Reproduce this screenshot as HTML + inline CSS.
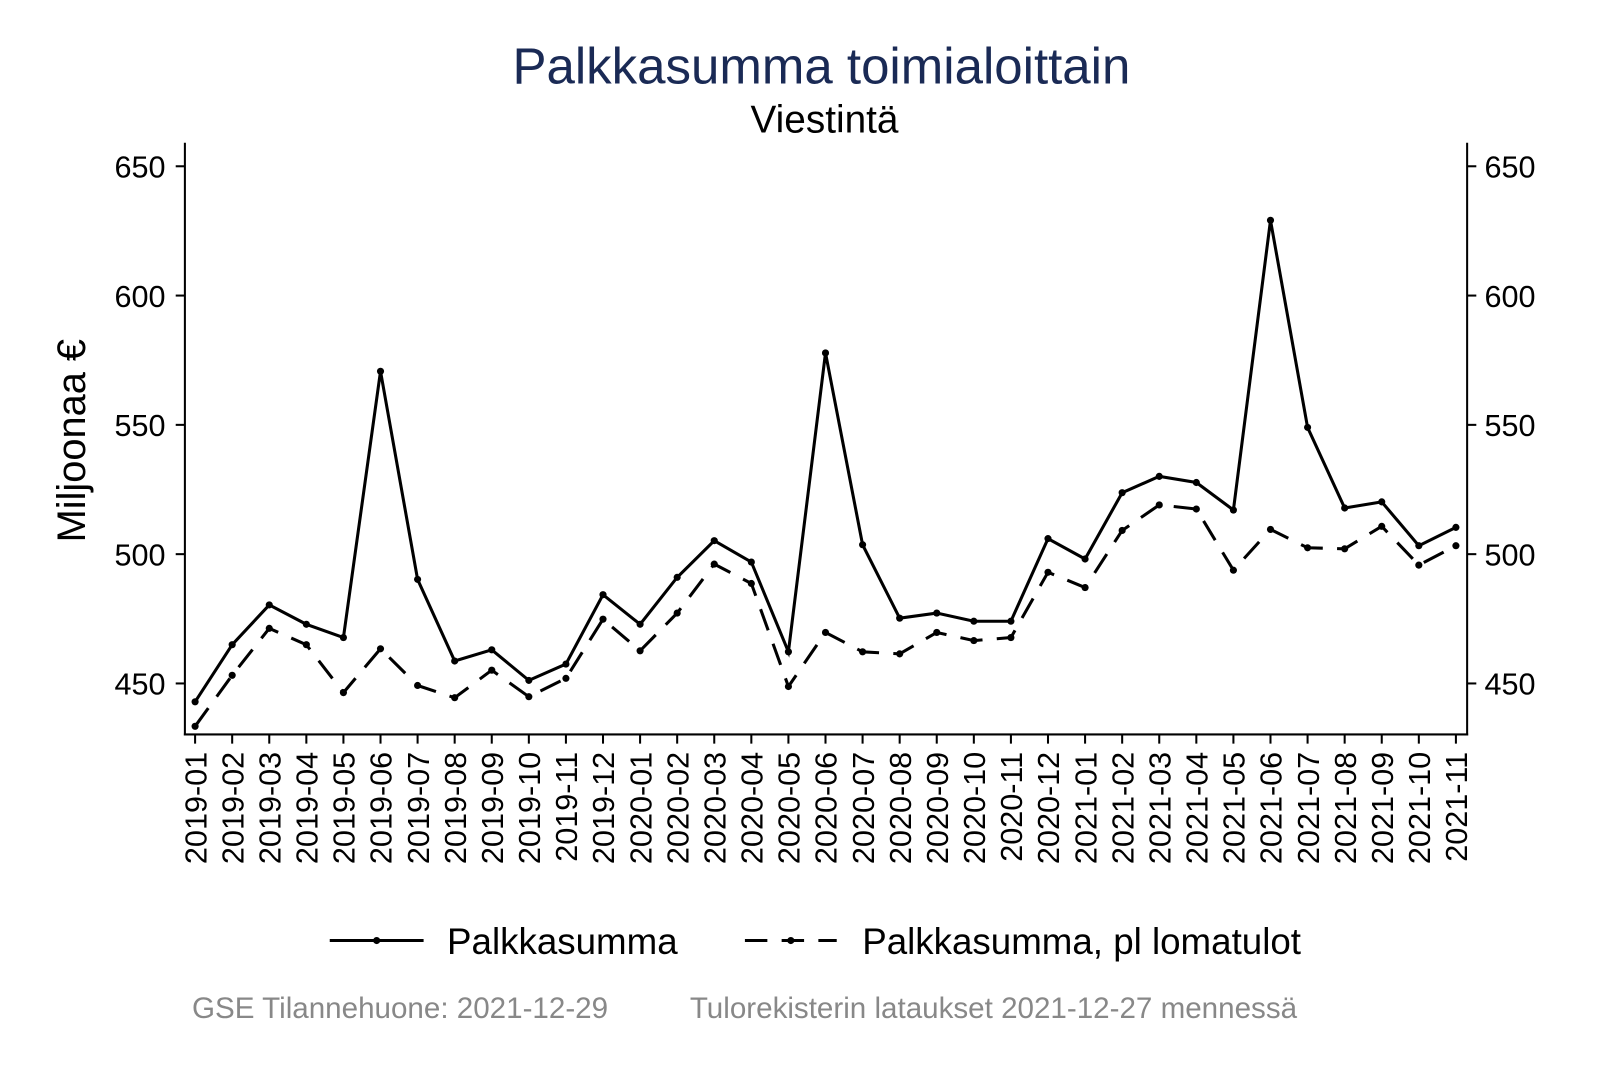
<!DOCTYPE html>
<html><head><meta charset="utf-8"><style>html,body{margin:0;padding:0;background:#fff}</style></head>
<body>
<svg width="1600" height="1067" viewBox="0 0 1568 1046" xmlns="http://www.w3.org/2000/svg" font-family="Liberation Sans, Arial, sans-serif">
<rect width="1568" height="1046" fill="#fff"/>
<text x="805" y="82" font-size="50" text-anchor="middle" fill="#1a2a55">Palkkasumma toimialoittain</text>
<text x="808" y="130" font-size="38" text-anchor="middle" fill="#000">Viestintä</text>
<text transform="translate(83,432) rotate(-90)" font-size="39" text-anchor="middle" fill="#000">Miljoonaa €</text>
<g stroke="#000" stroke-width="2" fill="none">
<line x1="181" y1="140" x2="181" y2="721"/>
<line x1="1438" y1="140" x2="1438" y2="721"/>
<line x1="180" y1="720" x2="1439" y2="720"/>
</g>
<g id="yt" font-size="30" fill="#000"></g>
<g id="xt" font-size="30" fill="#000"></g>
<g id="series"></g>
<g stroke="#000" stroke-width="3" fill="none">
<line x1="323" y1="922" x2="415" y2="922"/>
<line x1="730" y1="922" x2="820" y2="922" stroke-dasharray="22,14"/>
</g>
<circle cx="369" cy="922" r="3.5"/><circle cx="775" cy="922" r="3.5"/>
<text x="438" y="935" font-size="36">Palkkasumma</text>
<text x="845" y="935" font-size="36">Palkkasumma, pl lomatulot</text>
<text x="188" y="998" font-size="29" fill="#888">GSE Tilannehuone: 2021-12-29</text>
<text x="676" y="998" font-size="29" fill="#888">Tulorekisterin lataukset 2021-12-27 mennessä</text>
<script>
var ns="http://www.w3.org/2000/svg";
function el(n,a,p,t){var e=document.createElementNS(ns,n);for(var k in a)e.setAttribute(k,a[k]);if(t)e.textContent=t;p.appendChild(e);return e;}
var yt=document.getElementById('yt');
[650,600,550,500,450].forEach(function(v){var y=163+(650-v)*2.535;
el('line',{x1:172,y1:y,x2:181,y2:y,stroke:'#000','stroke-width':2},yt);
el('line',{x1:1438,y1:y,x2:1447,y2:y,stroke:'#000','stroke-width':2},yt);
el('text',{x:162,y:y+11,'text-anchor':'end'},yt,v);
el('text',{x:1455,y:y+11},yt,v);});
var xt=document.getElementById('xt');
var s=[688,632,593,612,625,364,568,648,637,667,651,583,612,566,530,551,639,346,534,606,601,609,609,528,548,483,467,473,500,216,419,498,492,535,517];
var d=[712,662,616,632,679,636,672,684,657,683,665,607,638,601,553,572,673,620,639,641,620,628,625,561,576,520,495,499,559,519,537,538,516,554,535];
var ps=[],pd=[],g=document.getElementById('series');
for(var i=0;i<35;i++){var x=191+i*(1236/34);
var yr=2019+Math.floor(i/12),m=(i%12)+1;var lab=yr+'-'+(m<10?'0'+m:m);
el('line',{x1:x,y1:720,x2:x,y2:729,stroke:'#000','stroke-width':2},xt);
el('text',{transform:'translate('+(x+11)+',737) rotate(-90)','text-anchor':'end'},xt,lab);
ps.push(x+','+s[i]);pd.push(x+','+d[i]);}
el('polyline',{points:pd.join(' '),fill:'none',stroke:'#000','stroke-width':3,'stroke-dasharray':'22,14'},g);
el('polyline',{points:ps.join(' '),fill:'none',stroke:'#000','stroke-width':3},g);
for(var i=0;i<35;i++){var x=191+i*(1236/34);el('circle',{cx:x,cy:s[i],r:3.5},g);el('circle',{cx:x,cy:d[i],r:3.5},g);}
</script>
</svg>
</body></html>
